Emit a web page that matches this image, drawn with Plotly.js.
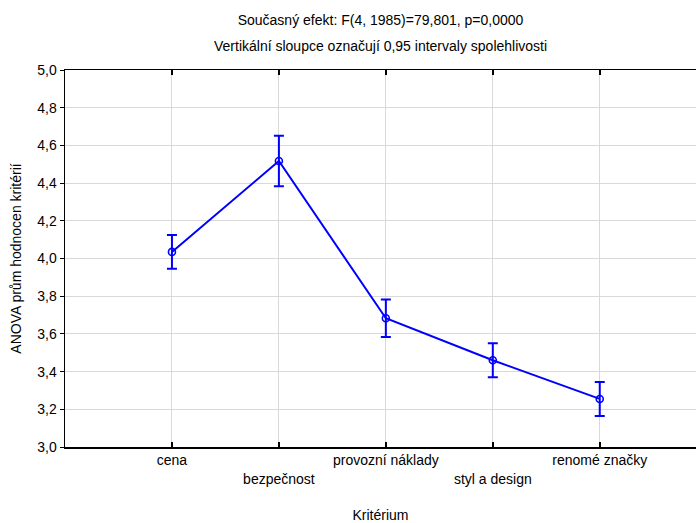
<!DOCTYPE html>
<html>
<head>
<meta charset="utf-8">
<script src="https://cdn.plot.ly/plotly-3.0.1.min.js"></script>
<style>body{margin:0;padding:0;background:#fff;}#chart{width:696px;height:523px;}</style>
</head>
<body>
<div id="chart"></div>
<script>
const categories = ["cena", "bezpečnost", "provozní náklady", "styl a design", "renomé značky"];
const tickLabels = ["cena", "<br>bezpečnost", "provozní náklady", "<br>styl a design", "renomé značky"];
const means = [4.035, 4.517, 3.683, 3.460, 3.255];
const ciHalf = [0.090, 0.134, 0.100, 0.090, 0.090];
const yTicks = [3.0, 3.2, 3.4, 3.6, 3.8, 4.0, 4.2, 4.4, 4.6, 4.8, 5.0];

const xIdx = categories.map((c, i) => i);
const font = {family: "Liberation Sans, Arial, sans-serif", size: 14, color: "#000"};

const trace = {
  x: xIdx,
  y: means,
  type: "scatter",
  mode: "lines+markers",
  line: {color: "#0000ff", width: 2},
  marker: {symbol: "circle-open", size: 7, color: "#0000ff", line: {width: 1.6, color: "#0000ff"}},
  error_y: {type: "data", array: ciHalf, visible: true, color: "#0000ff", thickness: 2, width: 5},
  hoverinfo: "skip",
  showlegend: false
};

const layout = {
  width: 696,
  height: 523,
  margin: {l: 65, r: 0, t: 70, b: 76},
  paper_bgcolor: "#fff",
  plot_bgcolor: "#fff",
  font: font,
  separators: ", ",
  title: {
    text: "Současný efekt: F(4, 1985)=79,801, p=0,0000",
    font: font,
    x: 0.5, xanchor: "center", xref: "paper",
    y: 1 - 20 / 523, yanchor: "middle", yref: "container"
  },
  annotations: [{
    text: "Vertikální sloupce označují 0,95 intervaly spolehlivosti",
    xref: "paper", yref: "paper", x: 0.5, y: 1, yshift: 24,
    xanchor: "center", yanchor: "middle", showarrow: false,
    font: font
  }],
  xaxis: {
    range: [-1, 4.9],
    tickvals: xIdx,
    ticktext: tickLabels,
    ticks: "inside",
    ticklen: 5,
    tickwidth: 1.5,
    tickcolor: "#000",
    showline: true,
    linecolor: "#000",
    linewidth: 1.5,
    mirror: "ticks",
    showgrid: true,
    gridcolor: "#d9d9d9",
    gridwidth: 1,
    zeroline: false,
    tickfont: font,
    title: {text: "Kritérium", font: font, standoff: 26},
    fixedrange: true
  },
  yaxis: {
    range: [3.0, 5.0],
    tickvals: yTicks,
    tickformat: ".1f",
    ticks: "outside",
    ticklen: 4,
    tickwidth: 1,
    tickcolor: "#000",
    showline: true,
    linecolor: "#000",
    linewidth: 1.5,
    showgrid: true,
    gridcolor: "#d9d9d9",
    gridwidth: 1,
    zeroline: false,
    tickfont: font,
    title: {text: "ANOVA prům hodnocen kritérií", font: font, standoff: 12},
    fixedrange: true
  }
};

Plotly.newPlot("chart", [trace], layout, {staticPlot: true, displayModeBar: false});
</script>
</body>
</html>
